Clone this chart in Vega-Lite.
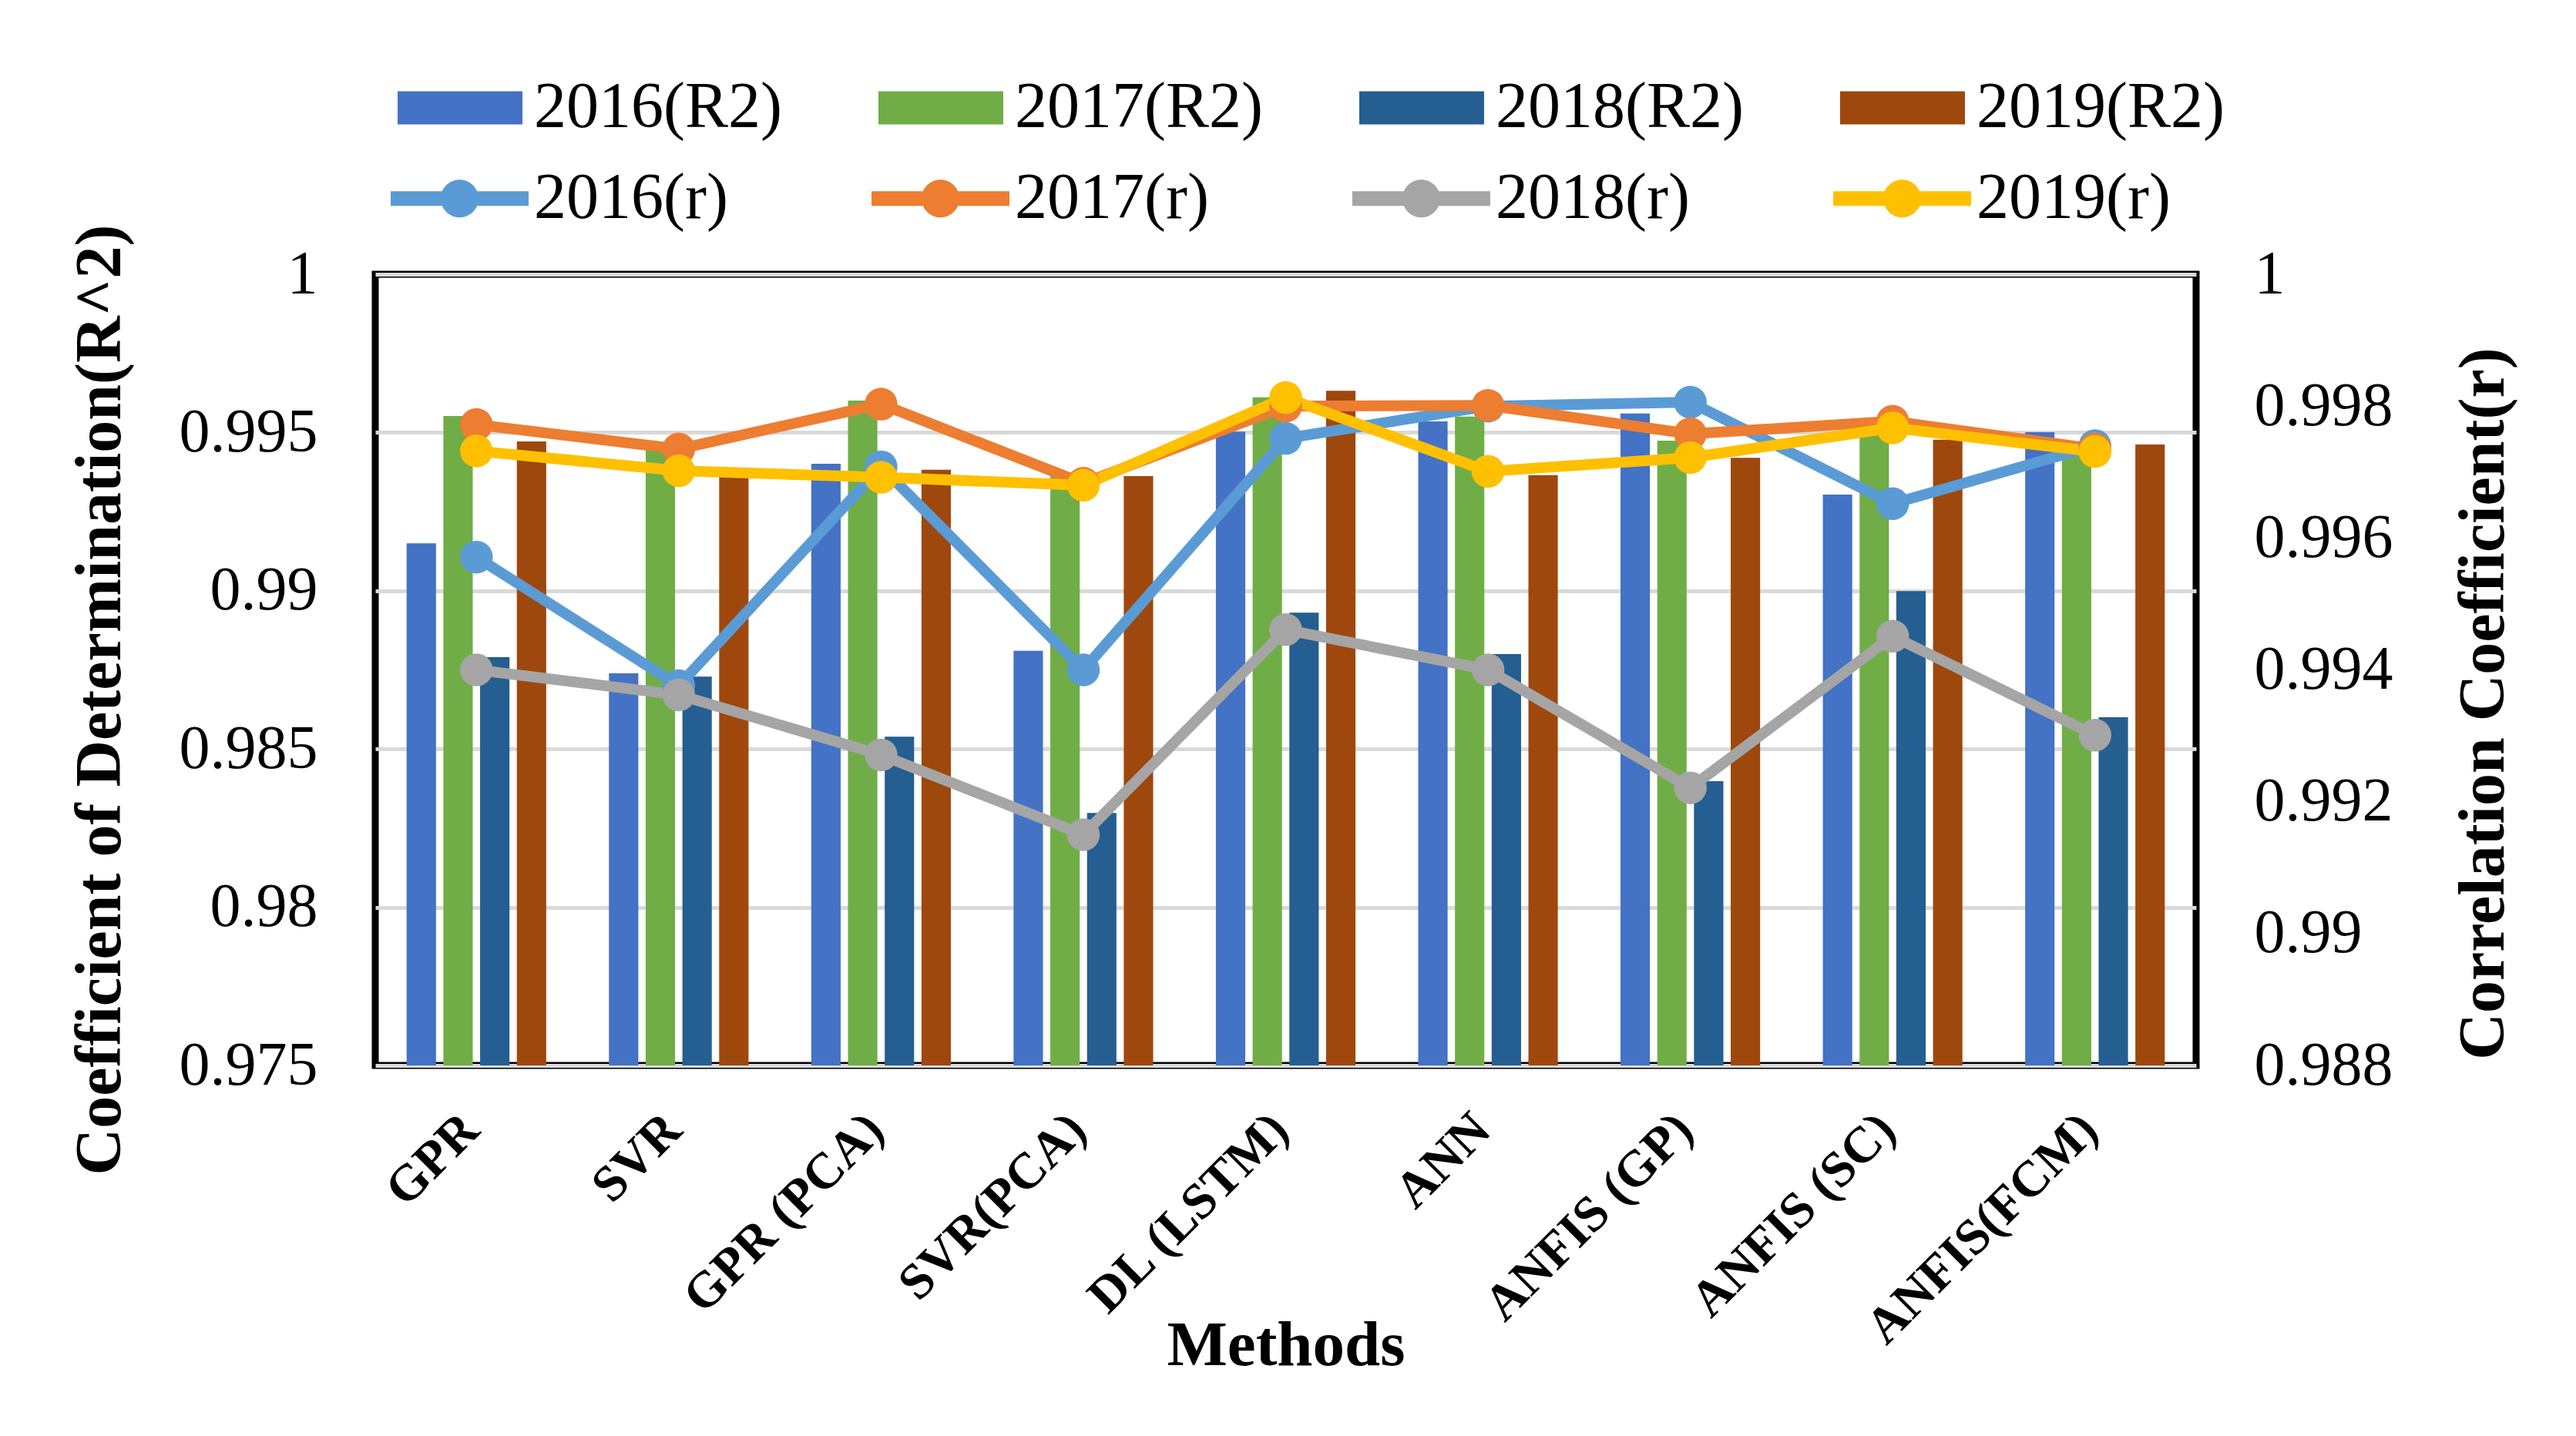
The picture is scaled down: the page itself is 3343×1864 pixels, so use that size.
{
  "$schema": "https://vega.github.io/schema/vega-lite/v6.json",
  "width": 2363,
  "height": 1027,
  "autosize": {"type": "none"},
  "padding": {"left": 487, "top": 356, "right": 493, "bottom": 481},
  "background": "white",
  "config": {
    "font": "Liberation Serif",
    "view": {"stroke": "black", "strokeWidth": 9},
    "axis": {"labelFont": "Liberation Serif", "titleFont": "Liberation Serif", "labelColor": "black", "titleColor": "black", "domain": false, "ticks": false, "labelLimit": 1000, "titleLimit": 3000, "labelOverlap": false},
    "legend": {"labelFont": "Liberation Serif", "labelColor": "black", "labelFontSize": 84, "labelLimit": 1000, "padding": 0, "symbolStrokeWidth": 0, "symbolOpacity": 1}
  },
  "datasets": {
    "bars": [
      {"method": "GPR", "series": "2016(R2)", "value": 0.9915},
      {"method": "GPR", "series": "2017(R2)", "value": 0.99552},
      {"method": "GPR", "series": "2018(R2)", "value": 0.9879},
      {"method": "GPR", "series": "2019(R2)", "value": 0.99472},
      {"method": "SVR", "series": "2016(R2)", "value": 0.98739},
      {"method": "SVR", "series": "2017(R2)", "value": 0.9947},
      {"method": "SVR", "series": "2018(R2)", "value": 0.98729},
      {"method": "SVR", "series": "2019(R2)", "value": 0.9936},
      {"method": "GPR (PCA)", "series": "2016(R2)", "value": 0.99401},
      {"method": "GPR (PCA)", "series": "2017(R2)", "value": 0.99601},
      {"method": "GPR (PCA)", "series": "2018(R2)", "value": 0.98539},
      {"method": "GPR (PCA)", "series": "2019(R2)", "value": 0.99382},
      {"method": "SVR(PCA)", "series": "2016(R2)", "value": 0.9881},
      {"method": "SVR(PCA)", "series": "2017(R2)", "value": 0.9937},
      {"method": "SVR(PCA)", "series": "2018(R2)", "value": 0.98298},
      {"method": "SVR(PCA)", "series": "2019(R2)", "value": 0.99362},
      {"method": "DL (LSTM)", "series": "2016(R2)", "value": 0.99503},
      {"method": "DL (LSTM)", "series": "2017(R2)", "value": 0.99611},
      {"method": "DL (LSTM)", "series": "2018(R2)", "value": 0.98931},
      {"method": "DL (LSTM)", "series": "2019(R2)", "value": 0.99632},
      {"method": "ANN", "series": "2016(R2)", "value": 0.99535},
      {"method": "ANN", "series": "2017(R2)", "value": 0.9955},
      {"method": "ANN", "series": "2018(R2)", "value": 0.988},
      {"method": "ANN", "series": "2019(R2)", "value": 0.99365},
      {"method": "ANFIS (GP)", "series": "2016(R2)", "value": 0.9956},
      {"method": "ANFIS (GP)", "series": "2017(R2)", "value": 0.99474},
      {"method": "ANFIS (GP)", "series": "2018(R2)", "value": 0.98398},
      {"method": "ANFIS (GP)", "series": "2019(R2)", "value": 0.9942},
      {"method": "ANFIS (SC)", "series": "2016(R2)", "value": 0.99304},
      {"method": "ANFIS (SC)", "series": "2017(R2)", "value": 0.9954},
      {"method": "ANFIS (SC)", "series": "2018(R2)", "value": 0.98999},
      {"method": "ANFIS (SC)", "series": "2019(R2)", "value": 0.99477},
      {"method": "ANFIS(FCM)", "series": "2016(R2)", "value": 0.99501},
      {"method": "ANFIS(FCM)", "series": "2017(R2)", "value": 0.9943},
      {"method": "ANFIS(FCM)", "series": "2018(R2)", "value": 0.986},
      {"method": "ANFIS(FCM)", "series": "2019(R2)", "value": 0.99462}
    ],
    "lines": [
      {"method": "GPR", "series": "2016(r)", "r": 0.99571},
      {"method": "SVR", "series": "2016(r)", "r": 0.99376},
      {"method": "GPR (PCA)", "series": "2016(r)", "r": 0.99708},
      {"method": "SVR(PCA)", "series": "2016(r)", "r": 0.994},
      {"method": "DL (LSTM)", "series": "2016(r)", "r": 0.99751},
      {"method": "ANN", "series": "2016(r)", "r": 0.998},
      {"method": "ANFIS (GP)", "series": "2016(r)", "r": 0.99806},
      {"method": "ANFIS (SC)", "series": "2016(r)", "r": 0.99652},
      {"method": "ANFIS(FCM)", "series": "2016(r)", "r": 0.9974},
      {"method": "GPR", "series": "2017(r)", "r": 0.99772},
      {"method": "SVR", "series": "2017(r)", "r": 0.99735},
      {"method": "GPR (PCA)", "series": "2017(r)", "r": 0.99803},
      {"method": "SVR(PCA)", "series": "2017(r)", "r": 0.99683},
      {"method": "DL (LSTM)", "series": "2017(r)", "r": 0.998},
      {"method": "ANN", "series": "2017(r)", "r": 0.99801},
      {"method": "ANFIS (GP)", "series": "2017(r)", "r": 0.99758},
      {"method": "ANFIS (SC)", "series": "2017(r)", "r": 0.99777},
      {"method": "ANFIS(FCM)", "series": "2017(r)", "r": 0.99735},
      {"method": "GPR", "series": "2018(r)", "r": 0.994},
      {"method": "SVR", "series": "2018(r)", "r": 0.99362},
      {"method": "GPR (PCA)", "series": "2018(r)", "r": 0.99271},
      {"method": "SVR(PCA)", "series": "2018(r)", "r": 0.9915},
      {"method": "DL (LSTM)", "series": "2018(r)", "r": 0.99461},
      {"method": "ANN", "series": "2018(r)", "r": 0.994},
      {"method": "ANFIS (GP)", "series": "2018(r)", "r": 0.99221},
      {"method": "ANFIS (SC)", "series": "2018(r)", "r": 0.99451},
      {"method": "ANFIS(FCM)", "series": "2018(r)", "r": 0.99301},
      {"method": "GPR", "series": "2019(r)", "r": 0.99732},
      {"method": "SVR", "series": "2019(r)", "r": 0.99702},
      {"method": "GPR (PCA)", "series": "2019(r)", "r": 0.99692},
      {"method": "SVR(PCA)", "series": "2019(r)", "r": 0.9968},
      {"method": "DL (LSTM)", "series": "2019(r)", "r": 0.99813},
      {"method": "ANN", "series": "2019(r)", "r": 0.99701},
      {"method": "ANFIS (GP)", "series": "2019(r)", "r": 0.99722},
      {"method": "ANFIS (SC)", "series": "2019(r)", "r": 0.99767},
      {"method": "ANFIS(FCM)", "series": "2019(r)", "r": 0.99731}
    ]
  },
  "encoding": {
    "x": {
      "field": "method",
      "type": "nominal",
      "sort": ["GPR", "SVR", "GPR (PCA)", "SVR(PCA)", "DL (LSTM)", "ANN", "ANFIS (GP)", "ANFIS (SC)", "ANFIS(FCM)"],
      "scale": {"paddingInner": 0.31, "paddingOuter": 0.155},
      "axis": {
        "title": "Methods",
        "titleFontSize": 83,
        "titleFontWeight": "bold",
        "titleY": 388,
        "titleBaseline": "alphabetic",
        "labelAngle": -45,
        "labelFontSize": 66,
        "labelFontWeight": "bold",
        "labelPadding": 50,
        "labelOffset": -30,
        "grid": false
      }
    }
  },
  "layer": [
    {
      "data": {"name": "bars"},
      "mark": {"type": "bar"},
      "encoding": {
        "xOffset": {"field": "series", "type": "nominal", "sort": ["2016(R2)", "2017(R2)", "2018(R2)", "2019(R2)"], "scale": {"paddingInner": 0.2, "paddingOuter": 0}},
        "y": {
          "field": "value",
          "type": "quantitative",
          "scale": {"domain": [0.975, 1], "zero": false, "nice": false},
          "axis": {
            "orient": "left",
            "values": [0.975, 0.98, 0.985, 0.99, 0.995, 1],
            "format": "~g",
            "labelFontSize": 80,
            "labelPadding": 75,
            "grid": true,
            "gridColor": "#D9D9D9",
            "gridWidth": 5,
            "title": "Coefficient of Determination(R^2)",
            "titleFontSize": 84,
            "titleFontWeight": "bold",
            "titleAngle": -90,
            "titleX": -332,
            "titleY": 552,
            "titleBaseline": "alphabetic",
            "titleAlign": "center"
          }
        },
        "y2": {"datum": 0.975},
        "color": {
          "field": "series",
          "type": "nominal",
          "scale": {"domain": ["2016(R2)", "2017(R2)", "2018(R2)", "2019(R2)"], "range": ["#4472C4", "#70AD47", "#255E91", "#9E480E"]},
          "legend": {
            "orient": "none",
            "legendX": 29,
            "legendY": -297,
            "direction": "horizontal",
            "columns": 4,
            "columnPadding": 125,
            "title": null,
            "symbolType": "M-1,-0.265H1V0.265H-1Z",
            "symbolSize": 26244,
            "labelOffset": 15
          }
        }
      }
    },
    {
      "data": {"name": "lines"},
      "encoding": {
        "y": {
          "field": "r",
          "type": "quantitative",
          "scale": {"domain": [0.988, 1], "zero": false, "nice": false},
          "axis": {
            "orient": "right",
            "values": [0.988, 0.99, 0.992, 0.994, 0.996, 0.998, 1],
            "format": "~g",
            "labelFontSize": 80,
            "labelPadding": 75,
            "grid": false,
            "title": "Correlation Coefficient(r)",
            "titleFontSize": 84,
            "titleFontWeight": "bold",
            "titleAngle": -90,
            "titleX": 398,
            "titleY": 557,
            "titleBaseline": "alphabetic",
            "titleAlign": "center"
          }
        }
      },
      "layer": [
        {
          "mark": {"type": "line", "strokeWidth": 14},
          "encoding": {
            "stroke": {
              "field": "series",
              "type": "nominal",
              "scale": {"domain": ["2016(r)", "2017(r)", "2018(r)", "2019(r)"], "range": ["#5B9BD5", "#ED7D31", "#A5A5A5", "#FFC000"]},
              "legend": {
                "orient": "none",
                "legendX": 20,
                "legendY": -188,
                "direction": "horizontal",
                "columns": 4,
                "columnPadding": 186,
                "title": null,
                "symbolType": "M-1,-0.106H1V0.106H-1Z M0.274,0 A0.274,0.274 0 1 1 -0.274,0 A0.274,0.274 0 1 1 0.274,0 Z",
                "symbolSize": 32041,
                "labelOffset": 7
              }
            }
          }
        },
        {
          "mark": {"type": "circle", "size": 1810, "opacity": 1},
          "encoding": {
            "fill": {
              "field": "series",
              "type": "nominal",
              "scale": {"domain": ["2016(r)", "2017(r)", "2018(r)", "2019(r)"], "range": ["#5B9BD5", "#ED7D31", "#A5A5A5", "#FFC000"]},
              "legend": {
                "orient": "none",
                "legendX": 20,
                "legendY": -188,
                "direction": "horizontal",
                "columns": 4,
                "columnPadding": 186,
                "title": null,
                "symbolType": "M-1,-0.106H1V0.106H-1Z M0.274,0 A0.274,0.274 0 1 1 -0.274,0 A0.274,0.274 0 1 1 0.274,0 Z",
                "symbolSize": 32041,
                "labelOffset": 7
              }
            }
          }
        }
      ]
    }
  ],
  "resolve": {"scale": {"y": "independent"}, "axis": {"y": "independent"}}
}
